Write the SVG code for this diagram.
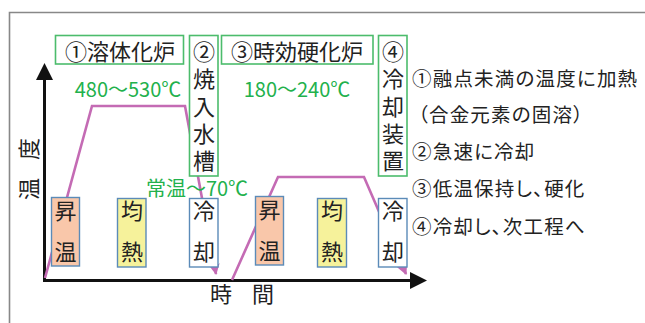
<svg xmlns="http://www.w3.org/2000/svg" width="645" height="323" viewBox="0 0 645 323">
<defs>
<marker id="pa" viewBox="0 0 10 10" refX="9" refY="5" markerWidth="4.2" markerHeight="4.2" orient="auto" markerUnits="strokeWidth">
<path d="M0,0 L10,5 L0,10 z" fill="#c46bb4"/>
</marker>
</defs>
<style>
text{font-family:"Noto Sans CJK JP","Noto Sans",sans-serif;}
.gb{fill:#fff;stroke:#4cbc6c;stroke-width:1.6;}
.bb{stroke:#5b8bb8;stroke-width:1.4;}
.peach{fill:#f9c7aa;}
.yel{fill:#f6f29b;}
.wht{fill:#fff;}
.t22{font-size:22px;fill:#222;text-anchor:middle;}
.v{font-size:22px;fill:#222;writing-mode:vertical-rl;text-anchor:start;}
.v5{letter-spacing:5.4px;}
.v2{letter-spacing:19px;}
.g{font-size:20px;fill:#22b14c;text-anchor:middle;}
.r{font-size:19.5px;fill:#222;letter-spacing:1.2px;font-feature-settings:"palt";}
.pl{fill:none;stroke:#c46bb4;stroke-width:2.6;stroke-linejoin:miter;}
</style>
<rect width="645" height="323" fill="#fff"/>
<path d="M9.5,323 V12.5 H645" fill="none" stroke="#888" stroke-width="1.6"/>

<g id="axes">
<line x1="44.5" y1="78" x2="44.5" y2="281.5" stroke="#111" stroke-width="3"/>
<path d="M44.5,63 L53,80 L36,80 z" fill="#111"/>
<line x1="43" y1="280.5" x2="412" y2="280.5" stroke="#111" stroke-width="3"/>
<path d="M427,280.5 L410,272 L410,289 z" fill="#111"/>
<text class="t22" transform="translate(37,160) rotate(-90)" letter-spacing="18">温度</text>
<text class="t22" x="243" y="302"><tspan x="221">時</tspan><tspan x="263">間</tspan></text>
</g>

<g id="connectors">
<polyline class="pl" points="45,278 92,106 185,106 216,274" marker-end="url(#pa)"/>
<polyline class="pl" points="232,280 278,177 364,177 406,274" marker-end="url(#pa)"/>
</g>

<g id="n1"><rect class="gb" x="55.5" y="35.5" width="128" height="28.5"/><text class="t22" x="120" y="60">①溶体化炉</text></g>
<g id="n2"><rect class="gb" x="189.5" y="35.5" width="28.5" height="140.5"/>
<text class="v v5" x="204" y="40.5">②焼入水槽</text></g>
<g id="n3"><rect class="gb" x="221.5" y="35.5" width="151.5" height="28.5"/><text class="t22" x="297" y="60">③時効硬化炉</text></g>
<g id="n4"><rect class="gb" x="378.5" y="35.5" width="28.5" height="140.5"/>
<text class="v v5" x="393" y="40.5">④冷却装置</text></g>

<g id="temp1"><text class="g" x="128" y="97">480～530℃</text></g>
<g id="temp2"><text class="g" x="297" y="97">180～240℃</text></g>
<g id="temp3"><text class="g" x="197" y="196">常温～70℃</text></g>

<g id="s1"><rect class="bb peach" x="51.5" y="197.5" width="28" height="68.5"/><text class="v v2" x="65.5" y="200">昇温</text></g>
<g id="s2"><rect class="bb yel" x="117.5" y="198.5" width="28.5" height="68.5"/><text class="v v2" x="132" y="200">均熱</text></g>
<g id="s3"><rect class="bb wht" x="189.5" y="198.5" width="28.5" height="68.5"/><text class="v v2" x="204" y="200">冷却</text></g>
<g id="s4"><rect class="bb peach" x="255.5" y="196.5" width="28" height="68.5"/><text class="v v2" x="269.5" y="199">昇温</text></g>
<g id="s5"><rect class="bb yel" x="317.5" y="198.5" width="29" height="68.5"/><text class="v v2" x="332" y="200">均熱</text></g>
<g id="s6"><rect class="bb wht" x="378.5" y="198.5" width="28.5" height="68.5"/><text class="v v2" x="393" y="200">冷却</text></g>

<g id="legend">
<text class="r" x="412" y="86">①融点未満の温度に加熱</text>
<text class="r" x="418" y="122">（合金元素の固溶）</text>
<text class="r" x="412" y="159">②急速に冷却</text>
<text class="r" x="412" y="196">③低温保持し、硬化</text>
<text class="r" x="412" y="234">④冷却し、次工程へ</text>
</g>
</svg>
